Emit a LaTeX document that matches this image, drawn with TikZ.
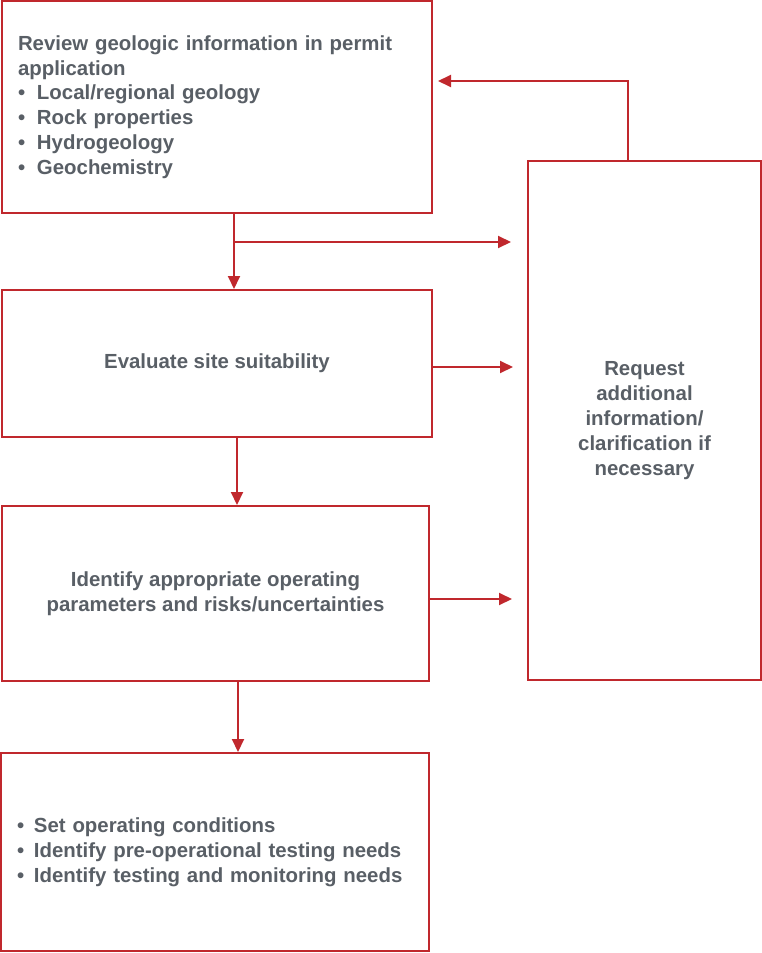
\documentclass[tikz,border=0pt]{standalone}
\usepackage{fontspec}
\setmainfont{Liberation Sans}
\usepackage{tikz}
\usetikzlibrary{arrows.meta, positioning, calc}
\definecolor{flowred}{RGB}{192,40,45}
\definecolor{flowgray}{RGB}{89,95,102}
\newcommand{\itm}[1]{\makebox[19pt][l]{\textbullet}#1}

\begin{document}
\begin{tikzpicture}[x=1pt, y=-1pt, >={Triangle[length=13pt, width=12pt]}]
  \tikzset{
    box/.style={draw=flowred, line width=2pt, fill=white,
      inner xsep=16pt, inner ysep=0pt, text=flowgray,
      font=\fontsize{20.4}{24.8}\selectfont\bfseries},
    listbox/.style={box, align=left},
    midbox/.style={box, align=center},
    arr/.style={->, draw=flowred, line width=2pt},
  }
  \useasboundingbox (0,0) rectangle (762,953);
  % Left column
  \node[listbox, minimum width=430pt, minimum height=212pt, text width=398pt]
    at (217,107) (review)
    {Review geologic information in permit\\application\\
     \itm{Local/regional geology}\\\itm{Rock properties}\\
     \itm{Hydrogeology}\\\itm{Geochemistry}};
  \node[midbox, minimum width=430pt, minimum height=147pt,
        below=75pt of review] (eval) {Evaluate site suitability};
  \node[midbox, minimum width=427pt, minimum height=175pt,
        below=67pt of eval, xshift=-1.5pt] (ident)
    {Identify appropriate operating\\parameters and risks/uncertainties};
  \node[listbox, minimum width=428pt, minimum height=198pt, text width=396pt,
        below=70pt of ident, xshift=-0.5pt] (cond)
    {\makebox[17pt][l]{\textbullet}Set operating conditions\\
     \makebox[17pt][l]{\textbullet}Identify pre-operational testing needs\\
     \makebox[17pt][l]{\textbullet}Identify testing and monitoring needs};
  % Right column
  \node[midbox, minimum width=233pt, minimum height=519pt, inner xsep=4pt]
    at (644.5,420.5) (request)
    {Request\\additional\\information/\\clarification if\\necessary};
  % Arrows
  \draw[arr] ([xshift=17pt]review.south) -- ([xshift=17pt]eval.north);
  \coordinate (split) at ([xshift=17pt, yshift=-28pt]review.south);
  \draw[arr] (split) -- ([xshift=-16pt]split -| request.west);
  \draw[arr] ([yshift=-3.5pt]eval.east)
    -- ([xshift=-14pt, yshift=-3.5pt]eval.east -| request.west);
  \draw[arr] ([xshift=20pt]eval.south) -- ([xshift=20pt]eval.south |- ident.north);
  \draw[arr] ([yshift=-5.5pt]ident.east)
    -- ([xshift=-15pt, yshift=-5.5pt]ident.east -| request.west);
  \draw[arr] ([xshift=22.5pt]ident.south) -- ([xshift=22.5pt]ident.south |- cond.north);
  \draw[arr] ([xshift=-16.5pt]request.north)
    |- ([xshift=5pt, yshift=26pt]review.east);
\end{tikzpicture}
\end{document}
